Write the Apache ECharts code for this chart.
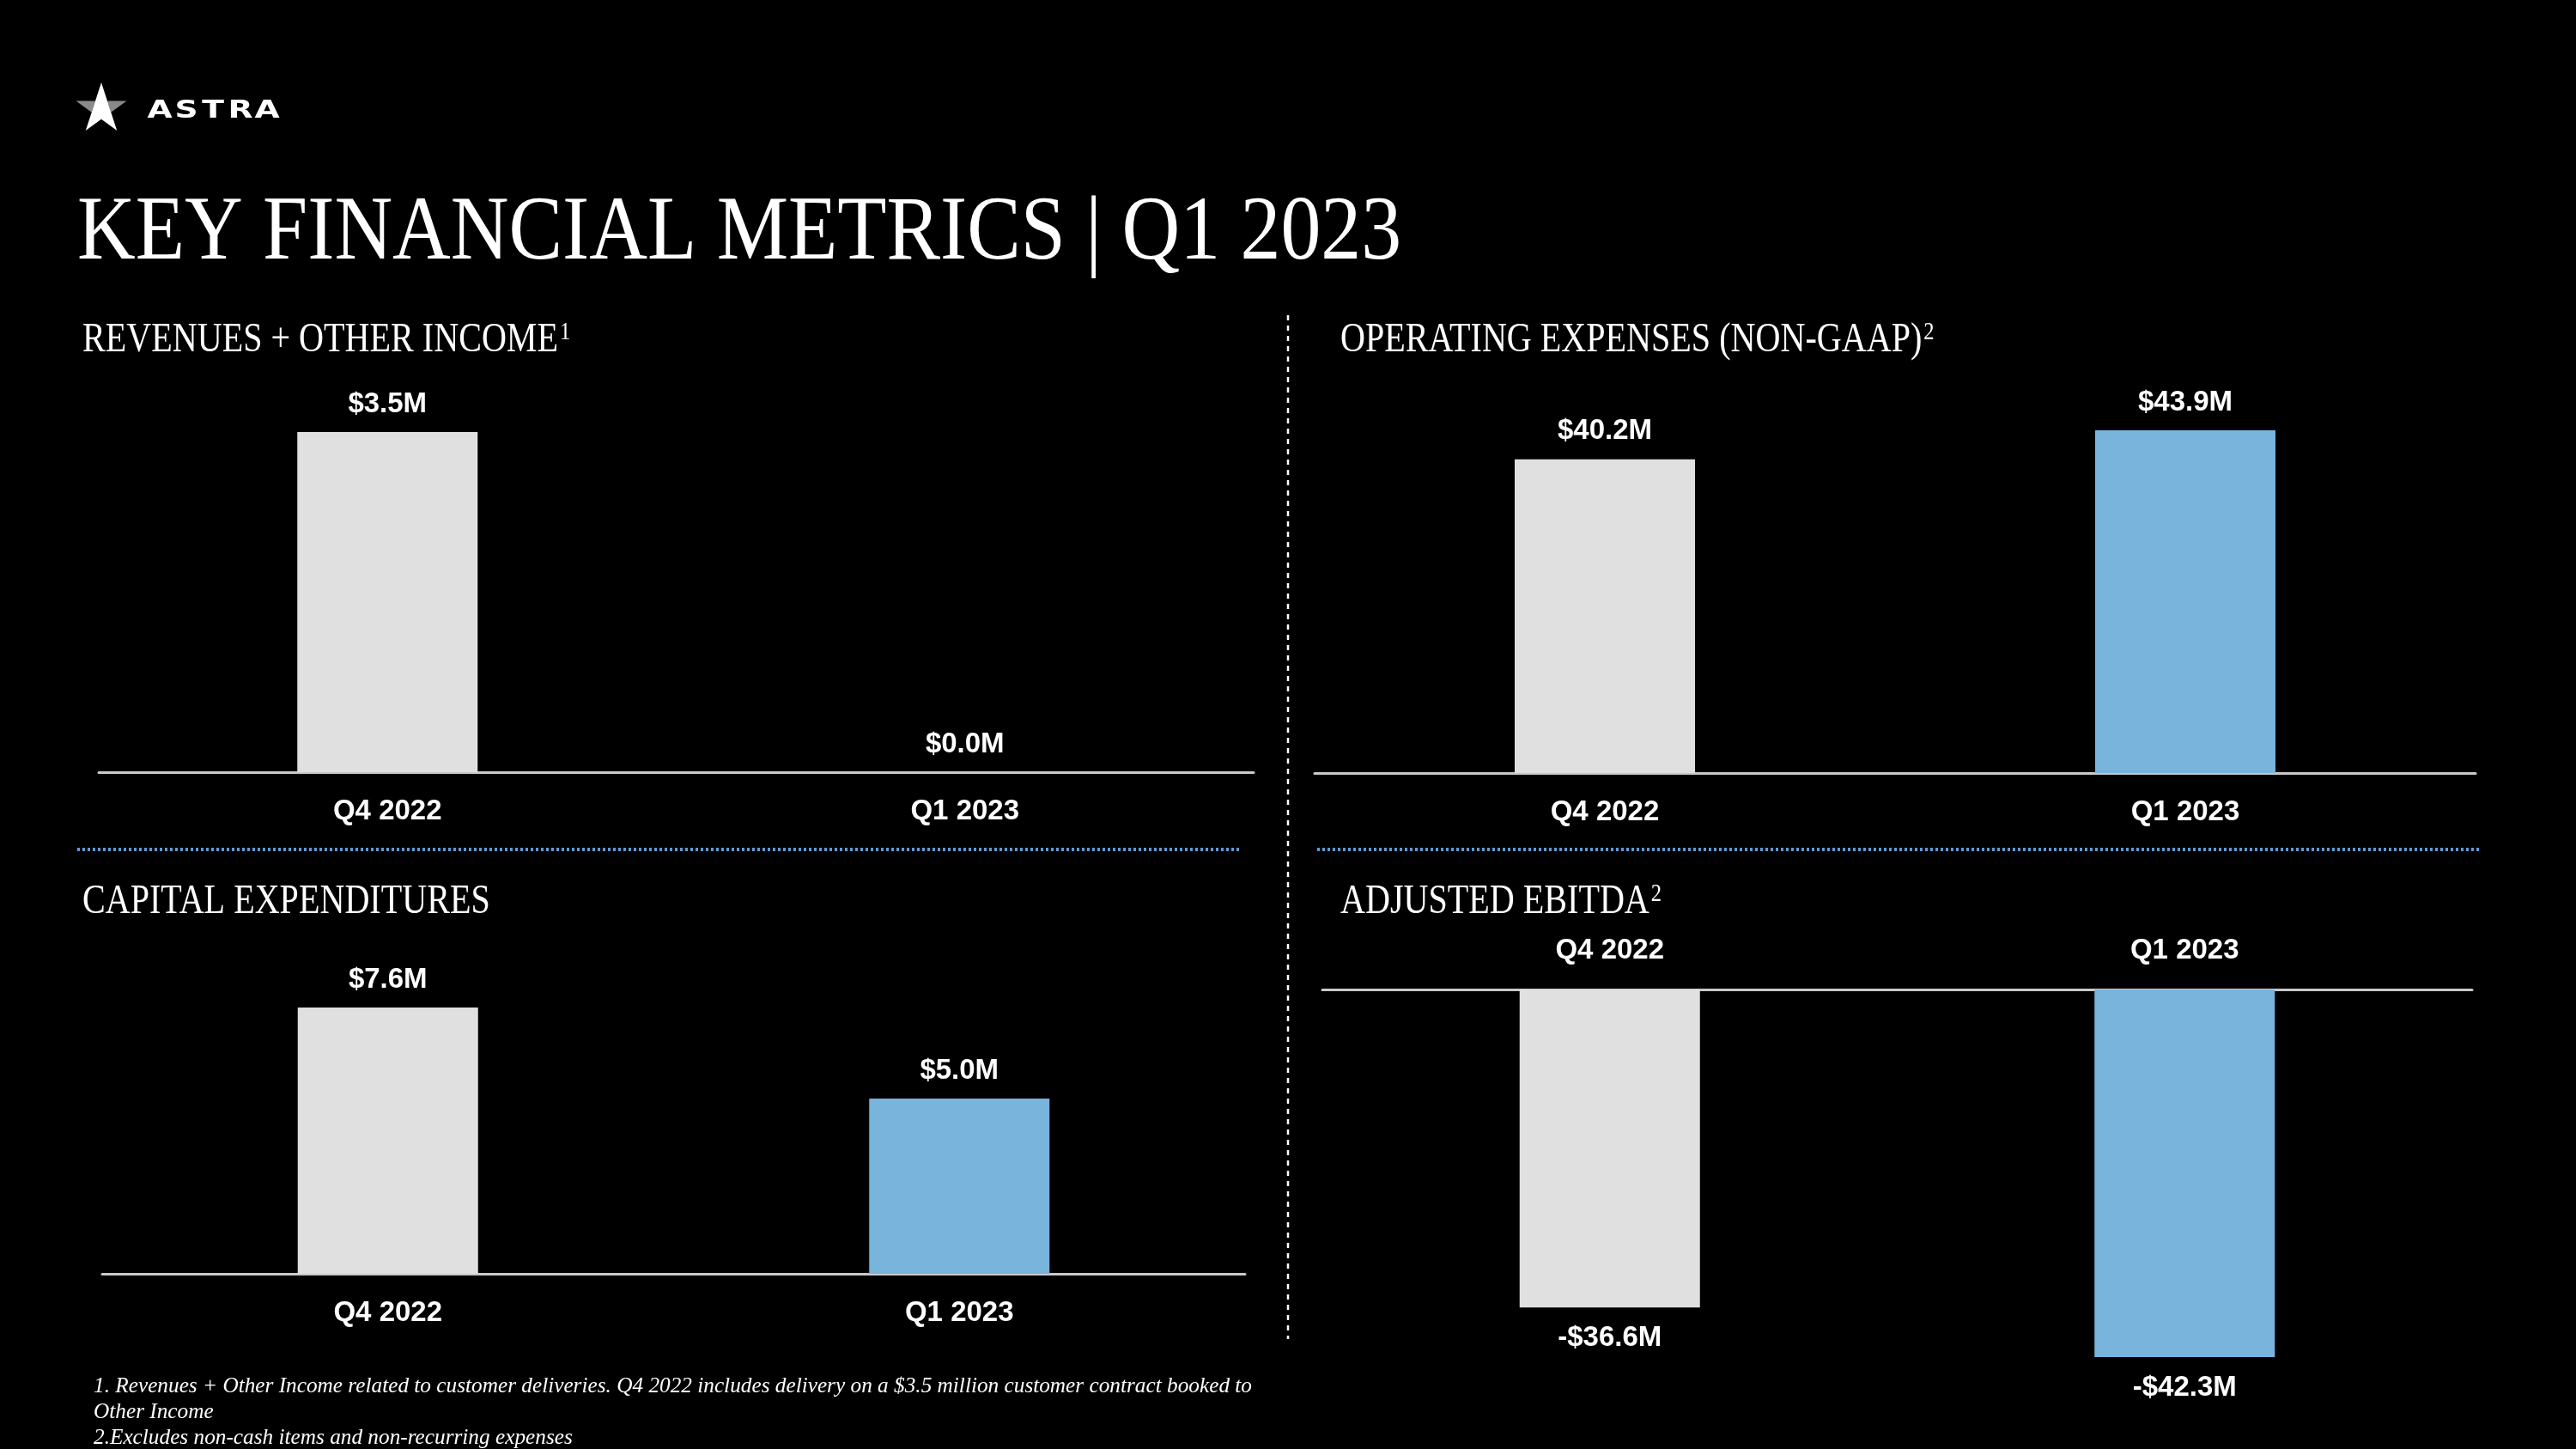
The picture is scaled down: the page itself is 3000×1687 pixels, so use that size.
<!DOCTYPE html>
<html>
<head>
<meta charset="utf-8">
<script src="https://cdn.jsdelivr.net/npm/echarts@6/dist/echarts.min.js"></script>
<style>html,body{margin:0;padding:0;background:#000;}#c{width:3000px;height:1687px;}</style>
</head>
<body>
<div id="c"></div>
<script>
const categories = ['Q4 2022', 'Q1 2023'];
const revenue = [3.5, 0.0];
const opex = [40.2, 43.9];
const capex = [7.6, 5.0];
const ebitda = [-36.6, -42.3];
const barColors = ['#E0E0E0', '#78B4DC'];

const mainTitle = 'KEY FINANCIAL METRICS | Q1 2023';
const sectionTitles = [
  ['REVENUES + OTHER INCOME', '1'],
  ['OPERATING EXPENSES (NON-GAAP)', '2'],
  ['CAPITAL EXPENDITURES', ''],
  ['ADJUSTED EBITDA', '2']
];
const footnotes = [
  '1. Revenues + Other Income related to customer deliveries. Q4 2022 includes delivery on a $3.5 million customer contract booked to',
  'Other Income',
  '2.Excludes non-cash items and non-recurring expenses'
];

const ctx = document.createElement('canvas').getContext('2d');
function measure(font, s) { ctx.font = font; return ctx.measureText(s).width; }

const LBL_FONT = '"Liberation Sans", Arial, sans-serif';
const SERIF = '"Liberation Serif", serif';

function fmt(v) { return (v < 0 ? '-$' : '$') + Math.abs(v).toFixed(1) + 'M'; }

const grids = [
  { left: 115, right: 1540, top: 503, bottom: 788 },
  { left: 1531, right: 117, top: 501, bottom: 787 },
  { left: 119, right: 1550, top: 1173, bottom: 204 },
  { left: 1540, right: 121, top: 1152, bottom: 107 }
];
const seriesData = [revenue, opex, capex, ebitda];

const xAxes = grids.map((g, i) => ({
  type: 'category', gridIndex: i, data: categories,
  position: i === 3 ? 'top' : 'bottom',
  axisLine: { show: true, lineStyle: { color: '#C9C9C9', width: 3 } },
  axisTick: { show: false },
  splitLine: { show: false },
  axisLabel: { color: '#fff', fontFamily: LBL_FONT, fontWeight: 'bold', fontSize: 33, margin: 29 }
}));
const yAxes = grids.map((g, i) => ({
  type: 'value', gridIndex: i, show: false, splitLine: { show: false },
  min: i === 3 ? 'dataMin' : 0, max: i === 3 ? 0 : 'dataMax'
}));
const series = seriesData.map((d, i) => ({
  type: 'bar', xAxisIndex: i, yAxisIndex: i, data: d, barWidth: 210,
  itemStyle: { color: p => barColors[p.dataIndex] },
  label: {
    show: true, position: i === 3 ? 'bottom' : 'top', distance: i === 3 ? 19 : 16,
    color: '#fff', fontFamily: LBL_FONT, fontWeight: 'bold', fontSize: 33,
    formatter: p => fmt(p.value)
  }
}));

// graphics
const els = [];
function text(x, y, s, font, scaleX, opts) {
  els.push(Object.assign({
    type: 'text', x: x, y: y, scaleX: scaleX || 1, silent: true,
    style: { text: s, font: font, fill: '#fff', textAlign: 'left', textVerticalAlign: 'middle' }
  }, opts || {}));
}

// Logo star
const cx = 118, cy = 127, R = 31, r = R * 0.382;
function pt(deg, rad) { const a = deg * Math.PI / 180; return [cx + rad * Math.cos(a), cy - rad * Math.sin(a)]; }
els.push({ type: 'polygon', silent: true, shape: { points: [pt(162, R), pt(126, r), pt(198, r)] }, style: { fill: '#8A8A8A' } });
els.push({ type: 'polygon', silent: true, shape: { points: [pt(18, R), pt(54, r), pt(342, r)] }, style: { fill: '#8A8A8A' } });
els.push({ type: 'polygon', silent: true, shape: { points: [pt(90, R), pt(54, r), pt(342, r), pt(306, R), pt(270, r), pt(234, R), pt(198, r), pt(126, r)] }, style: { fill: '#FFFFFF' } });
const astra = ['A', 'S', 'T', 'R', 'A'];
const astraX = [186, 217, 248, 280, 311];
astra.forEach((ch, i) => {
  els.push({ type: 'text', x: astraX[i], y: 129, scaleX: 1.3, silent: true,
    style: { text: ch, font: 'bold 29px "DejaVu Sans", sans-serif', fill: '#fff', textAlign: 'center', textVerticalAlign: 'middle' } });
});

// Main title
const titleFont = '106px ' + SERIF;
const titleScale = 1542 / measure(titleFont, mainTitle);
text(90, 273, mainTitle, titleFont, titleScale);

// Section titles
const secFont = '49px ' + SERIF;
const secScale = 554 / measure(secFont, sectionTitles[0][0]);
const secPos = [[96, 396], [1561, 396], [96, 1050], [1561, 1050]];
sectionTitles.forEach((t, i) => {
  const [x, y] = secPos[i];
  text(x, y, t[0], secFont, secScale);
  if (t[1]) {
    const w = measure(secFont, t[0]) * secScale;
    text(x + w + 2, y - 9, t[1], '30px ' + SERIF, secScale);
  }
});

// Footnotes
const fnFont = 'italic 25px ' + SERIF;
const fnScale = 1349 / measure(fnFont, footnotes[0]);
const fnY = [1614, 1644, 1674];
footnotes.forEach((f, i) => text(109, fnY[i], f, fnFont, fnScale));

// Dividers
els.push({ type: 'line', silent: true, shape: { x1: 1500, y1: 367, x2: 1500, y2: 1559 }, style: { stroke: '#FFFFFF', lineWidth: 2.5, lineDash: [6, 6] } });
els.push({ type: 'line', silent: true, shape: { x1: 90, y1: 989, x2: 1445, y2: 989 }, style: { stroke: '#5E9BD6', lineWidth: 4, lineDash: [3, 3] } });
els.push({ type: 'line', silent: true, shape: { x1: 1534, y1: 989, x2: 2889, y2: 989 }, style: { stroke: '#5E9BD6', lineWidth: 4, lineDash: [3, 3] } });

const chart = echarts.init(document.getElementById('c'));
chart.setOption({
  backgroundColor: '#000',
  animation: false,
  grid: grids,
  xAxis: xAxes,
  yAxis: yAxes,
  series: series,
  graphic: { elements: els }
});
</script>
</body>
</html>
